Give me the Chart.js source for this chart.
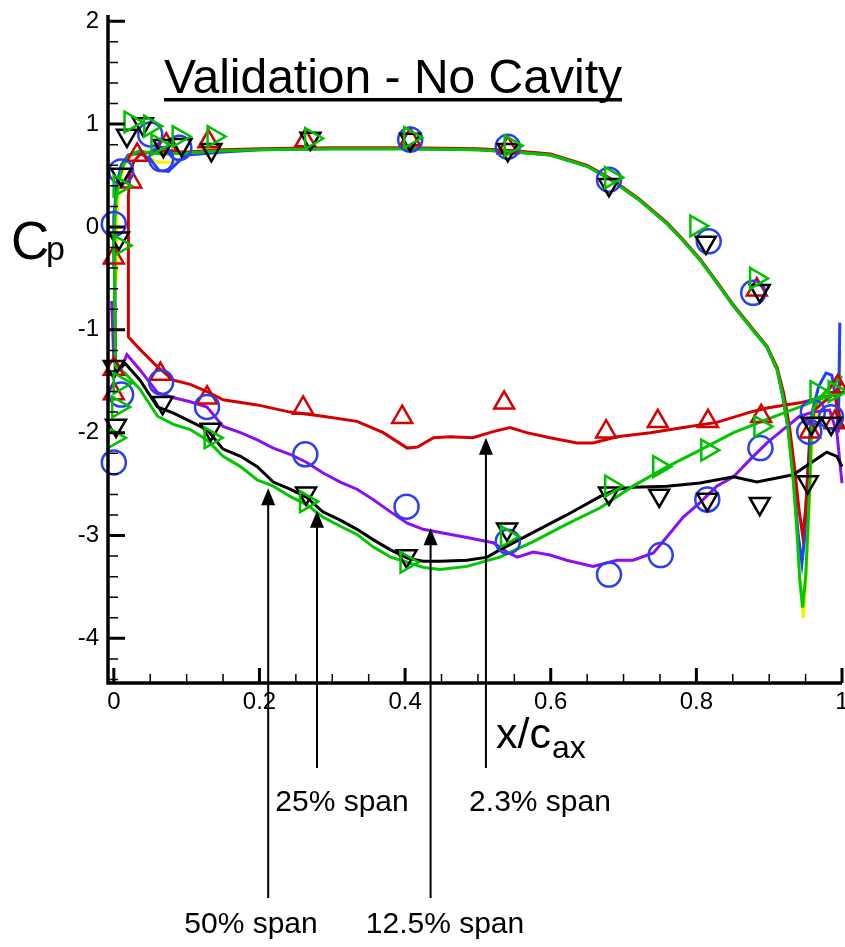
<!DOCTYPE html>
<html><head><meta charset="utf-8">
<script src="https://cdn.jsdelivr.net/npm/chart.js@4.4.0/dist/chart.umd.min.js"></script>
<style>html,body{margin:0;padding:0;background:#fff;}canvas{display:block;}</style>
</head><body>
<canvas id="c" width="845" height="947"></canvas>
<script>
// ---------- tick labels ----------
const xTickValues = [0, 0.2, 0.4, 0.6, 0.8, 1];
const yTickValues = [-4, -3, -2, -1, 0, 1, 2];

// ---------- CFD lines: pressure side ----------
const psGreenX = [0.002,0.001,0.001,0.003,0.007,0.013,0.022,0.035,0.05,0.07,0.10,0.15,0.20,0.30,0.40,0.50,0.55,0.60,0.65,0.68,0.72,0.76,0.78,0.805,0.832,0.85,0.875,0.897,0.911,0.919,0.926,0.933,0.938,0.942,0.946,0.950,0.953,0.956,0.958,0.961,0.975,1.0];
const psGreenCp = [-1.36,-0.70,0.00,0.25,0.45,0.60,0.70,0.74,0.72,0.71,0.72,0.74,0.75,0.76,0.76,0.75,0.73,0.70,0.59,0.47,0.27,0.03,-0.12,-0.32,-0.58,-0.76,-0.98,-1.17,-1.39,-1.65,-1.97,-2.46,-2.94,-3.43,-3.70,-3.40,-2.95,-2.46,-1.97,-1.76,-1.62,-1.45];

const psRedX = [0.020,0.022,0.027,0.035,0.05,0.07,0.10,0.15,0.20,0.30,0.40,0.50,0.55,0.60,0.65,0.68,0.72,0.76,0.78,0.805,0.832,0.85,0.875,0.897,0.911,0.92,0.928,0.935,0.941,0.946,0.950,0.954,0.958,0.962,0.975,0.99,1.0];
const psRedCp = [0.30,0.52,0.63,0.70,0.73,0.73,0.73,0.75,0.76,0.77,0.77,0.76,0.74,0.71,0.60,0.48,0.28,0.04,-0.11,-0.31,-0.57,-0.75,-0.97,-1.16,-1.37,-1.62,-1.95,-2.35,-2.75,-3.00,-2.75,-2.30,-1.95,-1.78,-1.70,-1.62,-1.95];

const psBlueX = [0.000,0.000,0.004,0.010,0.020,0.035,0.050,0.062,0.075,0.088,0.10,0.15,0.20,0.30,0.40,0.50,0.55,0.60,0.65,0.68,0.72,0.76,0.78,0.805,0.832,0.85,0.875,0.897,0.911,0.919,0.927,0.934,0.940,0.945,0.949,0.952,0.956,0.959,0.968,0.978,0.986,0.992,0.995,0.997];
const psBlueCp = [-0.40,0.10,0.40,0.60,0.70,0.72,0.66,0.55,0.54,0.63,0.70,0.73,0.75,0.76,0.76,0.75,0.73,0.70,0.59,0.47,0.27,0.03,-0.12,-0.32,-0.58,-0.76,-0.98,-1.17,-1.39,-1.66,-2.0,-2.5,-3.0,-3.27,-3.0,-2.5,-2.0,-1.80,-1.55,-1.42,-1.44,-1.70,-2.00,-0.93];

const psYellowX = [0.003,0.004,0.008,0.014,0.025,0.04,0.06,0.08,0.10,0.15,0.20,0.30,0.40,0.50,0.55,0.60,0.65,0.68,0.72,0.76,0.78,0.805,0.832,0.85,0.875,0.897,0.911,0.919,0.926,0.933,0.938,0.942,0.947,0.951,0.954,0.957,0.960,0.975,0.99,0.997,0.998];
const psYellowCp = [-0.50,0.10,0.42,0.60,0.70,0.71,0.63,0.63,0.70,0.73,0.75,0.76,0.76,0.75,0.73,0.70,0.59,0.47,0.27,0.03,-0.12,-0.32,-0.58,-0.76,-0.98,-1.17,-1.39,-1.65,-1.97,-2.46,-2.94,-3.43,-3.80,-3.40,-2.90,-2.40,-1.95,-1.62,-1.50,-1.45,-1.20];

// ---------- CFD lines: suction side ----------
const ssGreenX = [0.002,0.015,0.036,0.060,0.082,0.105,0.128,0.150,0.174,0.197,0.219,0.242,0.265,0.287,0.311,0.334,0.356,0.380,0.403,0.425,0.448,0.485,0.530,0.576,0.622,0.668,0.713,0.760,0.805,0.851,0.897,0.942,0.966,1.0];
const ssGreenCp = [-1.36,-1.42,-1.58,-1.84,-1.92,-1.97,-2.07,-2.23,-2.33,-2.46,-2.52,-2.62,-2.70,-2.82,-2.91,-2.99,-3.11,-3.21,-3.26,-3.31,-3.33,-3.30,-3.21,-3.06,-2.89,-2.73,-2.52,-2.33,-2.17,-2.00,-1.87,-1.75,-1.68,-1.61];

const ssBlackX = [0.001,0.002,0.016,0.036,0.060,0.082,0.105,0.128,0.150,0.174,0.197,0.219,0.242,0.265,0.287,0.311,0.334,0.356,0.380,0.403,0.425,0.448,0.485,0.513,0.530,0.576,0.622,0.668,0.691,0.713,0.760,0.805,0.851,0.883,0.933,0.960,0.979,0.993,1.0];
const ssBlackCp = [0.0,-1.40,-1.33,-1.49,-1.75,-1.81,-1.89,-1.97,-2.16,-2.23,-2.33,-2.48,-2.55,-2.63,-2.77,-2.85,-2.94,-3.04,-3.14,-3.22,-3.25,-3.25,-3.24,-3.21,-3.14,-2.97,-2.80,-2.62,-2.55,-2.53,-2.52,-2.49,-2.43,-2.48,-2.41,-2.28,-2.19,-2.23,-2.33];

const ssPurpleX = [-0.003,0.000,0.010,0.018,0.036,0.060,0.082,0.105,0.128,0.150,0.174,0.197,0.219,0.242,0.265,0.287,0.311,0.334,0.356,0.380,0.403,0.425,0.448,0.485,0.521,0.540,0.554,0.576,0.599,0.622,0.658,0.691,0.713,0.741,0.760,0.782,0.805,0.828,0.851,0.874,0.897,0.919,0.942,0.960,0.983,0.993,1.0];
const ssPurpleCp = [-0.72,-1.30,-1.38,-1.24,-1.39,-1.61,-1.66,-1.70,-1.75,-1.94,-2.00,-2.07,-2.15,-2.21,-2.29,-2.39,-2.48,-2.55,-2.65,-2.77,-2.88,-2.94,-2.97,-3.02,-3.07,-3.16,-3.21,-3.16,-3.19,-3.24,-3.30,-3.24,-3.24,-3.17,-3.01,-2.82,-2.68,-2.52,-2.43,-2.26,-2.10,-1.97,-1.84,-1.80,-1.78,-2.00,-2.49];

const ssRedX = [0.020,0.020,0.036,0.060,0.082,0.105,0.128,0.150,0.197,0.242,0.287,0.334,0.370,0.403,0.417,0.439,0.462,0.493,0.521,0.544,0.567,0.599,0.636,0.658,0.691,0.737,0.782,0.828,0.874,0.897,0.942,0.988,1.0];
const ssRedCp = [0.30,-1.07,-1.19,-1.36,-1.49,-1.53,-1.60,-1.68,-1.73,-1.80,-1.84,-1.89,-2.00,-2.15,-2.14,-2.05,-2.04,-2.05,-1.99,-1.95,-2.00,-2.05,-2.10,-2.10,-2.04,-2.00,-1.95,-1.90,-1.80,-1.76,-1.71,-1.63,-1.51];

// ---------- experiments ----------
const exp23X = [0,0,0,0.024,0.032,0.072,0.130,0.263,0.407,0.541,0.883,0.990, 0.064,0.128,0.260,0.396,0.536,0.676,0.747,0.816,0.889,0.956,0.994];
const exp23Cp = [-0.30,-1.38,-1.62,0.44,0.70,0.80,0.83,0.84,0.85,0.77,-0.61,-1.90, -1.43,-1.66,-1.76,-1.85,-1.71,-1.99,-1.89,-1.89,-1.84,-1.99,-1.55];

const exp125X = [0.000,0.010,0.050,0.065,0.090,0.407,0.541,0.680,0.817,0.878,0.960,0.985, 0.000,0.010,0.065,0.128,0.263,0.402,0.541,0.680,0.751,0.815,0.888,0.955];
const exp125Cp = [0.03,0.54,0.90,0.66,0.77,0.85,0.78,0.46,-0.14,-0.64,-1.80,-1.85, -2.29,-1.63,-1.51,-1.75,-2.21,-2.72,-3.06,-3.38,-3.19,-2.65,-2.15,-1.99];

const exp25X = [0.007,0.010,0.018,0.040,0.068,0.093,0.134,0.270,0.407,0.541,0.680,0.813,0.887, 0.000,0.003,0.067,0.133,0.264,0.402,0.540,0.680,0.749,0.815,0.887,0.953,0.958,0.985];
const exp25Cp = [-0.11,0.51,0.89,1.00,0.79,0.80,0.75,0.86,0.85,0.75,0.41,-0.15,-0.62, -1.36,-1.93,-1.71,-1.97,-2.59,-3.20,-2.94,-2.59,-2.61,-2.65,-2.69,-2.48,-1.91,-1.91];

const exp50X = [0.008,0.008,0.023,0.050,0.060,0.089,0.137,0.271,0.407,0.545,0.683,0.800,0.882, 0.000,0.006,0.008,0.133,0.264,0.402,0.540,0.683,0.749,0.815,0.888,0.965,0.990];
const exp50Cp = [-0.18,0.40,1.02,0.98,0.80,0.88,0.88,0.86,0.87,0.79,0.48,0.01,-0.50, -2.05,-1.75,-1.52,-2.05,-2.67,-3.26,-3.01,-2.52,-2.33,-2.17,-1.94,-1.60,-1.60];

// ---------- annotations ----------
const spanLabels = ['50% span', '25% span', '12.5% span', '2.3% span'];
const arrowX = [0.212, 0.279, 0.435, 0.511];
const arrowTipCp = [-2.54, -2.76, -2.93, -2.05];

// ---------- build ----------
const FONT = "'Liberation Sans', Arial, Helvetica, sans-serif";
const pts = (xs, ys) => xs.map((x, i) => ({x: x, y: ys[i]}));

function lineDS(xs, ys, color, order) {
  return {data: pts(xs, ys), showLine: true, borderColor: color, borderWidth: 3,
    pointRadius: 0, pointHoverRadius: 0, fill: false, tension: 0, order: order, clip: false};
}
function markDS(xs, ys, color, style, rot, r, order) {
  return {data: pts(xs, ys), showLine: false, pointStyle: style, rotation: rot,
    pointRadius: r, pointHoverRadius: r, borderColor: color, pointBorderColor: color,
    pointBackgroundColor: 'rgba(0,0,0,0)', pointBorderWidth: 2.5, order: order, clip: false};
}

const datasets = [
  markDS(exp50X, exp50Cp, '#00c000', 'triangle', 90, 12, 0),
  markDS(exp25X, exp25Cp, '#000000', 'triangle', 180, 11.5, 1),
  markDS(exp125X, exp125Cp, '#2a3ff0', 'circle', 0, 12, 2),
  markDS(exp23X, exp23Cp, '#d40000', 'triangle', 0, 11.5, 3),
  lineDS(psGreenX, psGreenCp, '#00c800', 10),
  lineDS(ssGreenX, ssGreenCp, '#00c800', 11),
  lineDS(ssBlackX, ssBlackCp, '#000000', 12),
  lineDS(ssPurpleX, ssPurpleCp, '#8a10f0', 13),
  lineDS(ssRedX, ssRedCp, '#d40000', 14),
  lineDS(psRedX, psRedCp, '#d40000', 15),
  lineDS(psBlueX, psBlueCp, '#2040ff', 16),
  lineDS(psYellowX, psYellowCp, '#ffee00', 17)
];

const decor = {
  id: 'decor',
  afterDatasetsDraw(chart) {
    const ctx = chart.ctx, xs = chart.scales.x, ys = chart.scales.y;
    const {left, right, top, bottom} = chart.chartArea;
    ctx.save();
    ctx.strokeStyle = '#000';
    ctx.lineWidth = 1.5;
    ctx.beginPath();
    for (let k = -22; k <= 10; k++) {
      if (k % 5 === 0) continue;
      const py = ys.getPixelForValue(k / 5);
      ctx.moveTo(left, py); ctx.lineTo(left + 10, py);
    }
    for (let k = 1; k < 20; k++) {
      if (k % 4 === 0) continue;
      const px = xs.getPixelForValue(k / 20);
      ctx.moveTo(px, bottom); ctx.lineTo(px, bottom - 9);
    }
    ctx.stroke();
    ctx.lineWidth = 3;
    ctx.beginPath();
    yTickValues.forEach(v => { const py = ys.getPixelForValue(v); ctx.moveTo(left, py); ctx.lineTo(left + 17, py); });
    xTickValues.forEach(v => { const px = xs.getPixelForValue(v); ctx.moveTo(px, bottom); ctx.lineTo(px, bottom - 15); });
    ctx.stroke();
    ctx.lineWidth = 3.5;
    ctx.beginPath();
    ctx.moveTo(left, top); ctx.lineTo(left, bottom); ctx.lineTo(right, bottom);
    ctx.stroke();
    ctx.restore();
  },
  afterDraw(chart) {
    const ctx = chart.ctx, xs = chart.scales.x, ys = chart.scales.y;
    ctx.save();
    ctx.fillStyle = '#000';
    ctx.textBaseline = 'alphabetic';
    ctx.font = '48px ' + FONT;
    ctx.textAlign = 'left';
    const title = 'Validation - No Cavity';
    ctx.fillText(title, 164, 93);
    const tw = ctx.measureText(title).width;
    ctx.fillRect(164, 98, tw, 3.5);
    ctx.font = '53px ' + FONT;
    ctx.fillText('C', 11, 259);
    ctx.font = '34px ' + FONT;
    ctx.fillText('p', 46, 260);
    ctx.font = '43px ' + FONT;
    ctx.fillText('x/c', 496, 748);
    const w1 = ctx.measureText('x/c').width;
    ctx.font = '32px ' + FONT;
    ctx.fillText('ax', 496 + w1 + 1, 758);
    const tails = [898, 768, 898, 768];
    const labelCx = [251, 342, 445, 540];
    const labelBase = [933, 811, 933, 811];
    ctx.strokeStyle = '#000';
    ctx.lineWidth = 2;
    spanLabels.forEach((lab, i) => {
      const px = xs.getPixelForValue(arrowX[i]);
      const tip = ys.getPixelForValue(arrowTipCp[i]);
      ctx.beginPath(); ctx.moveTo(px, tip + 10); ctx.lineTo(px, tails[i]); ctx.stroke();
      ctx.beginPath(); ctx.moveTo(px, tip); ctx.lineTo(px - 7, tip + 17); ctx.lineTo(px + 7, tip + 17); ctx.closePath(); ctx.fill();
      ctx.font = '30px ' + FONT;
      ctx.textAlign = 'center';
      ctx.fillText(lab, labelCx[i], labelBase[i]);
    });
    ctx.restore();
  }
};

new Chart(document.getElementById('c'), {
  type: 'scatter',
  data: {datasets: datasets},
  options: {
    responsive: false, devicePixelRatio: 1, animation: false,
    layout: {autoPadding: false, padding: {left: 0, right: 3, top: 15, bottom: 0}},
    plugins: {legend: {display: false}, tooltip: {enabled: false}, title: {display: false}},
    scales: {
      x: {
        type: 'linear', position: 'bottom', min: -0.008, max: 1.0,
        grid: {display: false, drawTicks: false}, border: {display: false},
        afterBuildTicks: s => { s.ticks = xTickValues.map(v => ({value: v})); },
        afterFit: s => { s.height = 947 - 683; s.paddingLeft = 0; s.paddingRight = 0; },
        ticks: {autoSkip: false, maxRotation: 0, padding: 5, color: '#000',
          font: {family: FONT, size: 24}, callback: v => String(v)}
      },
      y: {
        type: 'linear', position: 'left', min: -4.434, max: 2.061,
        grid: {display: false, drawTicks: false}, border: {display: false},
        afterBuildTicks: s => { s.ticks = yTickValues.map(v => ({value: v})); },
        afterFit: s => { s.width = 108; s.paddingTop = 0; s.paddingBottom = 0; },
        ticks: {autoSkip: false, padding: 9, color: '#000',
          font: {family: FONT, size: 24}, callback: v => String(v)}
      }
    }
  },
  plugins: [decor]
});
</script>
</body></html>
